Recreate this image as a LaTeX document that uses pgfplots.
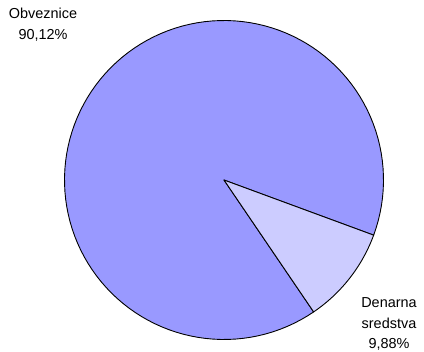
\documentclass[border=0pt]{standalone}
\usepackage{pgfplots}
\pgfplotsset{compat=1.18}
\usepgfplotslibrary{polar}
\usepackage{fontspec}
\setmainfont{Liberation Sans}
\definecolor{bigc}{RGB}{153,153,255}
\definecolor{smallc}{RGB}{204,204,255}
\begin{document}
\begin{tikzpicture}
\useasboundingbox (0,0) rectangle (424bp,352bp);
% shares in percent
\def\va{90.12}
\def\vb{9.88}
\pgfmathsetmacro{\startang}{-55.8}
\pgfmathsetmacro{\midang}{\startang+3.6*\vb}
\pgfmathsetmacro{\stopang}{\midang+3.6*\va}
\begin{polaraxis}[at={(224bp,172bp)}, anchor=center,
  width=319bp, height=319bp, scale only axis, hide axis,
  ymin=0, ymax=1, clip=false]
\addplot[fill=bigc, draw=black, line width=0.9pt, domain=\midang:\stopang, samples=120, line join=round] {1} -- (0,0) -- cycle;
\addplot[fill=smallc, draw=black, line width=0.9pt, domain=\startang:\midang, samples=30, line join=round] {1} -- (0,0) -- cycle;
\end{polaraxis}
\node[align=center, font=\fontsize{14.5}{21}\selectfont, anchor=north, inner sep=0pt] at (43bp,344bp) {Obveznice\\90,12\%};
\node[align=center, font=\fontsize{14.5}{21}\selectfont, anchor=south, inner sep=0pt] at (389bp,1bp) {Denarna\\sredstva\\9,88\%};
\end{tikzpicture}
\end{document}
